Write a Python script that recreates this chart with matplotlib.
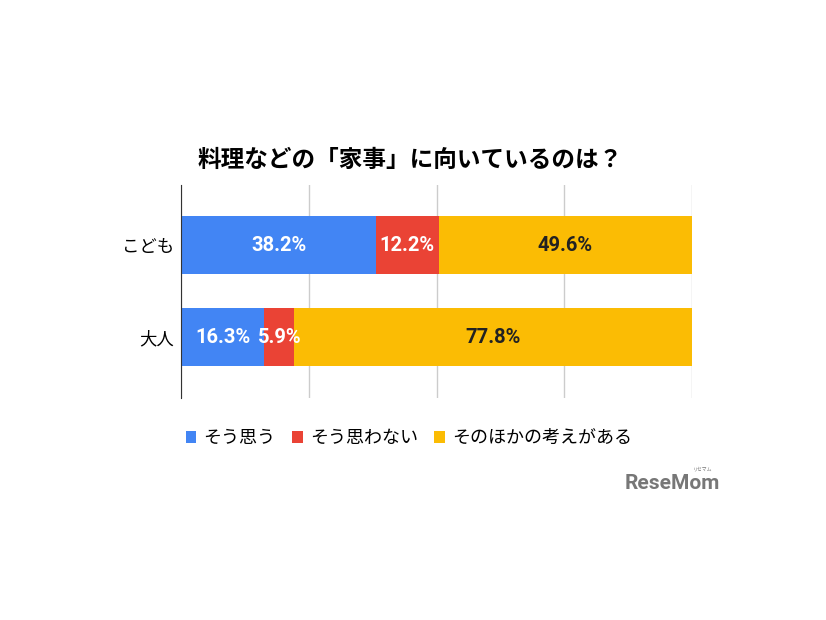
import numpy as np
import matplotlib.pyplot as plt

plt.rcParams['font.family'] = ['Noto Sans CJK JP', 'DejaVu Sans']

groups = ["こども", "大人"]
series = ["そう思う", "そう思わない", "そのほかの考えがある"]
agree = [38.2, 16.3]
disagree = [12.2, 5.9]
other = [49.6, 77.8]
colors = ['#4285F4', '#EA4335', '#FBBC04']
label_colors = ['white', 'white', '#222222']

fig = plt.figure(figsize=(8.26, 6.2), dpi=100)
ax = fig.add_axes([0.219, 0.358, 0.619, 0.344])

ypos = np.arange(len(groups))
left = np.zeros(len(groups))
for vals, name, col, lc in zip([agree, disagree, other], series, colors, label_colors):
    bars = ax.barh(ypos, vals, height=0.63, left=left, color=col, label=name, zorder=2)
    for b, v in zip(bars, vals):
        ax.text(b.get_x() + b.get_width() / 2, b.get_y() + b.get_height() / 2, f"{v}%",
                ha='center', va='center', color=lc, fontsize=14.5, fontweight='bold',
                family=['Roboto', 'Noto Sans CJK JP'], zorder=3)
    left += np.array(vals)

ax.set_xlim(0, 100)
ax.set_ylim(1.66, -0.66)
ax.set_xticks([0, 25, 50, 75, 100])
ax.xaxis.grid(True, color='#cccccc', linewidth=1, zorder=0)
ax.tick_params(axis='x', length=0, labelbottom=False)
ax.tick_params(axis='y', length=0, labelsize=12.5, pad=5)
ax.set_yticks(ypos)
ax.set_yticklabels(groups)
for s in ['top', 'right', 'bottom']:
    ax.spines[s].set_visible(False)
ax.spines['left'].set_color('#333333')

fig.text(0.497, 0.742, "料理などの「家事」に向いているのは？", ha='center', va='center',
         fontsize=17, fontweight='bold')

fig.legend(loc='center', bbox_to_anchor=(0.495, 0.293), ncol=3, frameon=False,
           fontsize=13, handlelength=0.6, handleheight=0.6, handletextpad=0.4,
           columnspacing=0.9)

fig.text(0.872, 0.22, "ReseMom", ha='right', va='center', fontsize=15,
         fontweight='bold', color='#777777', family=['Roboto', 'DejaVu Sans'])
fig.text(0.862, 0.243, "リセマム", ha='right', va='center', fontsize=3.5, color='#777777')

fig.savefig("out.png", dpi=100, facecolor='white')
